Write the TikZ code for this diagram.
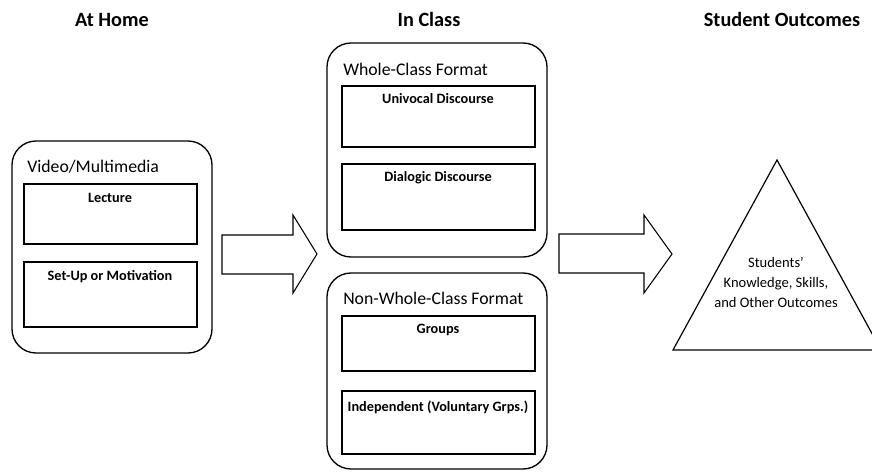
\documentclass[tikz,border=0pt]{standalone}
\usepackage{fontspec}
\setmainfont{Carlito}
\begin{document}
\begin{tikzpicture}[x=0.75pt,y=-0.75pt,
	outer/.style={line width=1pt, rounded corners=18pt},
	inner/.style={line width=0.8pt},
	head/.style={font=\fontsize{15.2}{18}\selectfont\bfseries, anchor=base},
	title/.style={font=\fontsize{13.3}{16}\selectfont, anchor=base west, inner sep=0pt},
	lbl/.style={font=\fontsize{10.7}{12}\selectfont\bfseries, anchor=base},
	blockarrow/.style={line width=0.8pt, line join=miter}]
	\useasboundingbox (0,0) rectangle (872,474);
	\clip (0,0) rectangle (872,474);
	% headings
	\node[head] (home) at (112,27) {At Home};
	\node[head] (class) at (429,27) {In Class};
	\node[head] (outcomes) at (782,27) {Student Outcomes};
	% at home
	\draw[outer] (12,141) rectangle (212,353);
	\node[title] (video) at (27,173) {Video/Multimedia};
	\draw[inner] (24,184) rectangle (197,244);
	\draw[inner] (24,262) rectangle (197,327);
	\node[lbl] (lecture) at (110,203) {Lecture};
	\node[lbl] (setup) at (110,281) {Set-Up or Motivation};
	% in class
	\draw[outer] (327,43) rectangle (547,257);
	\node[title] (whole) at (343,76) {Whole-Class Format};
	\draw[inner] (342,86) rectangle (535,147);
	\draw[inner] (342,164) rectangle (535,230);
	\node[lbl] (univocal) at (438,104) {Univocal Discourse};
	\node[lbl] (dialogic) at (438,182) {Dialogic Discourse};
	\draw[outer] (327,273) rectangle (547,469);
	\node[title] (nonwhole) at (343,305) {Non-Whole-Class Format};
	\draw[inner] (342,316) rectangle (535,371);
	\draw[inner] (342,391) rectangle (535,454);
	\node[lbl] (groups) at (438,334) {Groups};
	\node[lbl] (indep) at (438,411) {Independent (Voluntary Grps.)};
	% arrows
	\draw[blockarrow] (222,235) -- (293,235) -- (293,215) -- (317,254) -- (293,293) -- (293,274) -- (222,274) -- cycle;
	\draw[blockarrow] (559,234) -- (644,234) -- (644,215) -- (672,254) -- (644,293) -- (644,273) -- (559,273) -- cycle;
	% outcomes
	\draw[line width=0.9pt, line join=miter] (777,160) -- (881,350) -- (673,350) -- cycle;
	\node[align=center, font=\fontsize{10.9}{15}\selectfont] (result) at (776,282) {Students'\\Knowledge, Skills,\\and Other Outcomes};
\end{tikzpicture}
\end{document}
